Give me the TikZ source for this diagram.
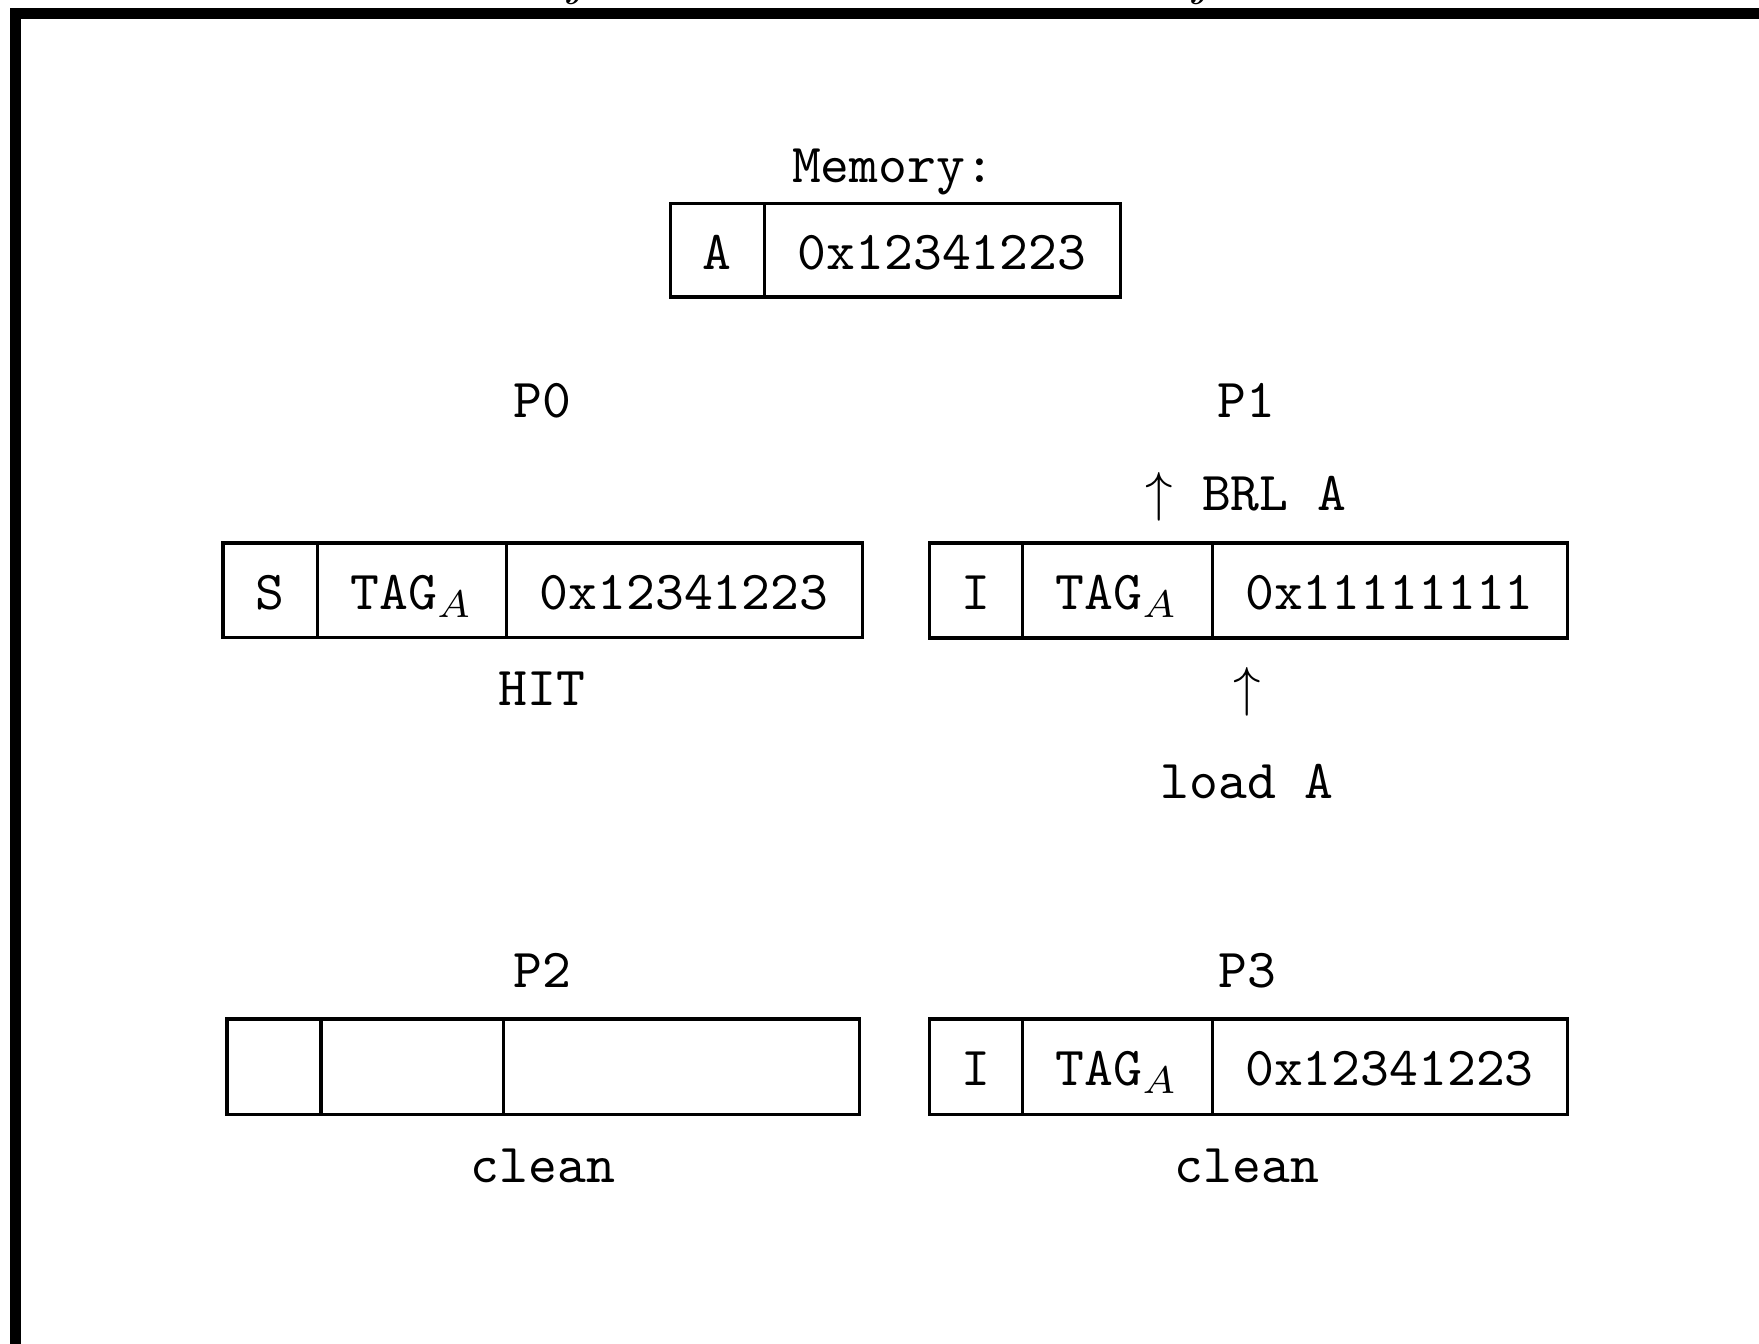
\documentclass[tikz,border=0pt]{standalone}
% one drawing unit is one pixel of a 1759 x 1344 sheet, y grows downwards
\def\u{0.182pt}
\tikzset{
  bar/.style={fill=black, draw=none},
  cell/.style={draw, line width=0.55pt, inner sep=0pt, outer sep=0pt,
    font=\ttfamily, text height=8.4pt, text depth=1.5pt, anchor=center},
  lbl/.style={font=\ttfamily, inner sep=0pt, anchor=base},
  cut/.style={font=\itshape, inner sep=0pt, anchor=base},
}
% \cellnode{name}{left}{right}{top}{bottom}{text}
\newcommand\cellnode[6]{%
  \node[cell, minimum width={(#3-#2)*\u}, minimum height={(#5-#4)*\u}]
    (#1) at ({(#2+#3)/2},{(#4+#5)/2}) {#6};}
\begin{document}
\begin{tikzpicture}[x=\u, y=-\u]
\useasboundingbox (0,0) rectangle (1759,1344);

% tails of the heading that runs off the top of the sheet
\node[cut] (headA) at (577,-6) {j};
\node[cut] (headB) at (1202,-6) {j};

% heavy frame along the top and left edges
\fill[bar] (10,8) rectangle (1759,19);
\fill[bar] (10,8) rectangle (21,1344);

% memory line
\node[lbl] (memlbl) at (893,183) {Memory:};
\cellnode{memA}{670}{764}{204}{297}{A}
\cellnode{memV}{764}{1120}{204}{297}{0x12341223}

% processor P0
\node[lbl] (p0) at (542,418) {P0};
\cellnode{pzS}{223}{317.5}{543}{637.5}{S}
\cellnode{pzT}{317.5}{506}{543}{637.5}{TAG$_A$}
\cellnode{pzD}{506}{862}{543}{637.5}{0x12341223}
\node[lbl] (hit) at (542,705) {HIT};

% processor P1
\node[lbl] (p1) at (1246,418) {P1};
\node[lbl] (brl) at (1246,511) {$\uparrow$ BRL A};
\cellnode{poS}{929}{1022}{543}{638}{I}
\cellnode{poT}{1022}{1212}{543}{638}{TAG$_A$}
\cellnode{poD}{1212}{1567}{543}{638}{0x11111111}
\node[lbl] (upld) at (1247,705) {$\uparrow$};
\node[lbl] (load) at (1247,798) {load A};

% processor P2
\node[lbl] (p2) at (542,987) {P2};
\cellnode{ptS}{227}{321}{1019}{1114}{}
\cellnode{ptT}{321}{503}{1019}{1114}{}
\cellnode{ptD}{503}{859}{1019}{1114}{}
\node[lbl] (cl2) at (543,1182) {clean};

% processor P3
\node[lbl] (p3) at (1247,987) {P3};
\cellnode{phS}{929}{1022}{1019}{1114}{I}
\cellnode{phT}{1022}{1212}{1019}{1114}{TAG$_A$}
\cellnode{phD}{1212}{1567}{1019}{1114}{0x12341223}
\node[lbl] (cl3) at (1247,1182) {clean};
\end{tikzpicture}
\end{document}
